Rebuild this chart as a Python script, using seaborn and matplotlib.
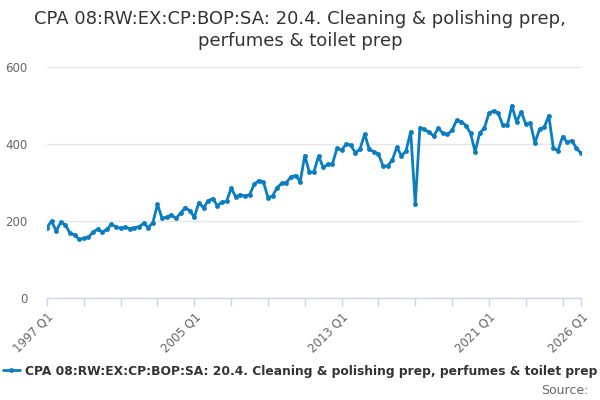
import matplotlib
matplotlib.use("Agg")
import matplotlib.pyplot as plt
import seaborn as sns
import pandas as pd
import numpy as np

# ---- data ----
start_year = 1997
values = [
    183, 200, 174, 197, 190, 168, 164, 152, 155, 158,
    171, 179, 171, 178, 191, 185, 181, 184, 180, 183,
    185, 194, 183, 196, 243, 207, 210, 216, 207, 220,
    235, 227, 210, 248, 234, 253, 258, 240, 249, 251,
    285, 263, 268, 265, 268, 295, 305, 302, 261, 265,
    287, 298, 300, 315, 318, 302, 370, 326, 328, 369,
    339, 347, 348, 389, 384, 400, 397, 377, 387, 426,
    386, 380, 374, 343, 343, 358, 392, 369, 382, 432,
    243, 442, 438, 430, 421, 441, 428, 425, 436, 462,
    458, 448, 428, 380, 429, 441, 480, 486, 481, 449,
    449, 500, 457, 484, 452, 454, 403, 439, 443, 474,
    389, 383, 419, 404, 409, 389, 376,
]
quarters = [f"{start_year + i // 4} Q{i % 4 + 1}" for i in range(len(values))]
yticks = [0, 200, 400, 600]
series_name = "CPA 08:RW:EX:CP:BOP:SA: 20.4. Cleaning & polishing prep, perfumes & toilet prep"
title = "CPA 08:RW:EX:CP:BOP:SA: 20.4. Cleaning & polishing prep,\nperfumes & toilet prep"

df = pd.DataFrame({"pos": np.arange(len(values)), "quarter": quarters, "value": values})

sns.set_theme(style="white")
plt.rcParams['font.family'] = ['DejaVu Sans']

fig = plt.figure(figsize=(6, 4), dpi=100)
ax = fig.add_axes([47/600, 1 - 298/400, (581 - 47)/600, (298 - 67)/400])

color = "#0B7EC1"
sns.lineplot(data=df, x="pos", y="value", ax=ax, color=color, linewidth=2,
             marker="o", markersize=3.5, markeredgewidth=0, label=series_name)

ax.set_xlim(0, len(values) - 1)
ax.set_ylim(0, 600)
ax.set_yticks(yticks)
ax.set_yticklabels([str(t) for t in yticks])
ax.yaxis.grid(True, color="#e6e6e6", linewidth=1)
ax.set_axisbelow(True)

# x ticks every 8 quarters plus the last one
tick_pos = list(range(0, len(values), 8))
if tick_pos[-1] != len(values) - 1:
    tick_pos.append(len(values) - 1)
ax.set_xticks(tick_pos)
labels = []
for p in tick_pos:
    if p % 32 == 0 or p == len(values) - 1:
        labels.append(quarters[p])
    else:
        labels.append("")
ax.set_xticklabels(labels, rotation=45, ha="right", rotation_mode="anchor")
ax.tick_params(axis="x", length=6, width=1, color="#ccd6eb", labelsize=8.5,
               labelcolor="#666666", pad=3, bottom=True)
ax.tick_params(axis="y", length=0, labelsize=8.5, labelcolor="#666666", pad=14)

for s in ["top", "right", "left"]:
    ax.spines[s].set_visible(False)
ax.spines["bottom"].set_color("#ccd6eb")
ax.spines["bottom"].set_linewidth(1)
ax.set_xlabel("")
ax.set_ylabel("")

ax.get_legend().remove()
handles, lbls = ax.get_legend_handles_labels()
fig.legend(handles, lbls, loc="center", bbox_to_anchor=(0.5, 1 - 371/400),
           frameon=False, prop={"weight": "bold", "size": 8.85}, labelcolor="#333333",
           handlelength=1.4, handletextpad=0.4, borderaxespad=0, borderpad=0)

fig.text(0.5, 1 - 10/400, title, ha="center", va="top", fontsize=13,
         color="#333333", linespacing=1.25)
fig.text(588/600, 1 - 390/400, "Source:", ha="right", va="center",
         fontsize=9, color="#666666")

fig.savefig("out.png", dpi=100)
